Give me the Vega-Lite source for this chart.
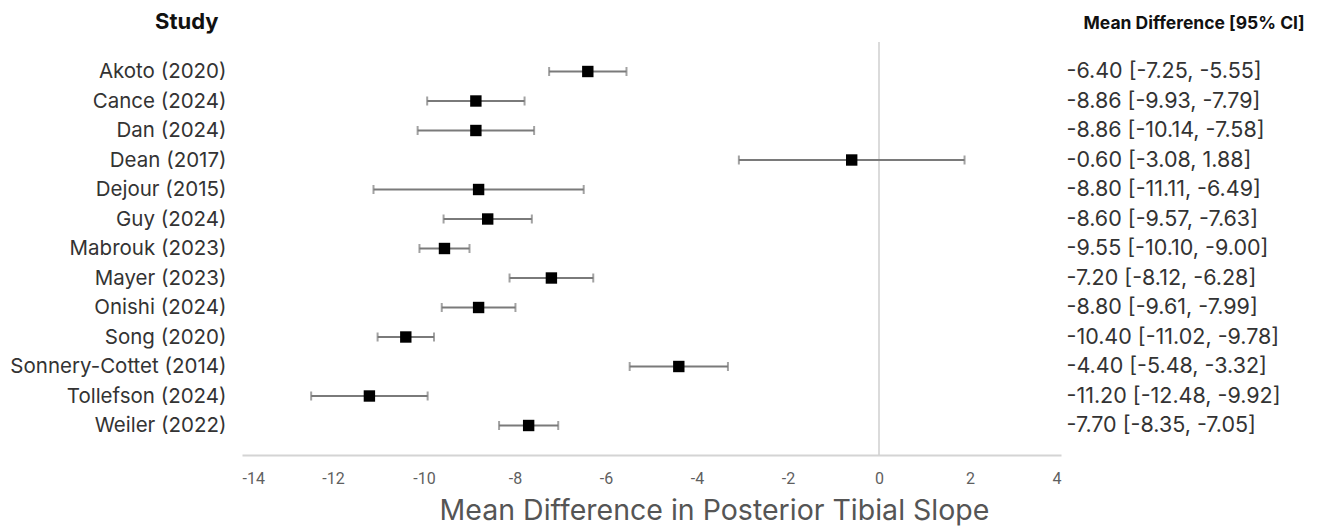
{
  "$schema": "https://vega.github.io/schema/vega-lite/v6.json",
  "autosize": {"type": "none"},
  "width": 819,
  "height": 413,
  "padding": {"left": 242, "top": 42, "right": 265, "bottom": 72},
  "background": "white",
  "config": {"view": {"stroke": null}, "font": "Inter"},
  "data": {"values": [
    {"order": 1, "study": "Akoto (2020)", "md": -6.40, "lo": -7.25, "hi": -5.55, "ci": "-6.40 [-7.25, -5.55]"},
    {"order": 2, "study": "Cance (2024)", "md": -8.86, "lo": -9.93, "hi": -7.79, "ci": "-8.86 [-9.93, -7.79]"},
    {"order": 3, "study": "Dan (2024)", "md": -8.86, "lo": -10.14, "hi": -7.58, "ci": "-8.86 [-10.14, -7.58]"},
    {"order": 4, "study": "Dean (2017)", "md": -0.60, "lo": -3.08, "hi": 1.88, "ci": "-0.60 [-3.08, 1.88]"},
    {"order": 5, "study": "Dejour (2015)", "md": -8.80, "lo": -11.11, "hi": -6.49, "ci": "-8.80 [-11.11, -6.49]"},
    {"order": 6, "study": "Guy (2024)", "md": -8.60, "lo": -9.57, "hi": -7.63, "ci": "-8.60 [-9.57, -7.63]"},
    {"order": 7, "study": "Mabrouk (2023)", "md": -9.55, "lo": -10.10, "hi": -9.00, "ci": "-9.55 [-10.10, -9.00]"},
    {"order": 8, "study": "Mayer (2023)", "md": -7.20, "lo": -8.12, "hi": -6.28, "ci": "-7.20 [-8.12, -6.28]"},
    {"order": 9, "study": "Onishi (2024)", "md": -8.80, "lo": -9.61, "hi": -7.99, "ci": "-8.80 [-9.61, -7.99]"},
    {"order": 10, "study": "Song (2020)", "md": -10.40, "lo": -11.02, "hi": -9.78, "ci": "-10.40 [-11.02, -9.78]"},
    {"order": 11, "study": "Sonnery-Cottet (2014)", "md": -4.40, "lo": -5.48, "hi": -3.32, "ci": "-4.40 [-5.48, -3.32]"},
    {"order": 12, "study": "Tollefson (2024)", "md": -11.20, "lo": -12.48, "hi": -9.92, "ci": "-11.20 [-12.48, -9.92]"},
    {"order": 13, "study": "Weiler (2022)", "md": -7.70, "lo": -8.35, "hi": -7.05, "ci": "-7.70 [-8.35, -7.05]"}
  ]},
  "encoding": {
    "x": {
      "type": "quantitative",
      "scale": {"domain": [-14, 4], "nice": false, "zero": false},
      "axis": {
        "values": [-14, -12, -10, -8, -6, -4, -2, 0, 2, 4],
        "labelExpr": "'' + datum.value",
        "grid": false, "ticks": false,
        "domain": true, "domainColor": "#d4d4d4", "domainWidth": 2,
        "labelColor": "#5f5f5f", "labelFontSize": 16, "labelPadding": 15,
        "labelFont": "Roboto",
        "title": "Mean Difference in Posterior Tibial Slope",
        "titleFontSize": 28.5, "titleFontWeight": "normal", "titleColor": "#555555",
        "titlePadding": 10, "titleFont": "Inter",
        "titleAnchor": "start", "titleAlign": "center", "titleX": 472
      }
    }
  },
  "layer": [
    {
      "mark": {"type": "rule", "color": "#cfcfcf", "strokeWidth": 1.5},
      "data": {"values": [{"zero": 0}]},
      "encoding": {"x": {"field": "zero", "type": "quantitative"}}
    },
    {
      "layer": [
        {
          "mark": {"type": "rule", "color": "#7a7a7a", "strokeWidth": 2},
          "encoding": {"x": {"field": "lo"}, "x2": {"field": "hi"}}
        },
        {
          "mark": {"type": "tick", "orient": "vertical", "color": "#7a7a7a", "size": 9, "thickness": 2},
          "encoding": {"x": {"field": "lo"}}
        },
        {
          "mark": {"type": "tick", "orient": "vertical", "color": "#7a7a7a", "size": 9, "thickness": 2},
          "encoding": {"x": {"field": "hi"}}
        }
      ],
      "encoding": {
        "y": {
          "field": "study", "type": "ordinal",
          "sort": {"field": "order", "op": "min"},
          "scale": {"type": "point", "padding": 1},
          "axis": {
            "orient": "left", "domain": false, "ticks": false, "grid": false,
            "labelFontSize": 20.5, "labelColor": "#333333", "labelPadding": 16,
            "labelFont": "Inter", "labelLimit": 300,
            "title": "Study", "titleAngle": 0, "titleAlign": "right",
            "titleBaseline": "alphabetic", "titleX": -24, "titleY": -14,
            "titleFontSize": 22, "titleFontWeight": "bold", "titleColor": "#111111",
            "titleFont": "Inter"
          }
        }
      }
    },
    {
      "mark": {"type": "square", "color": "black", "size": 130, "opacity": 1, "filled": true},
      "encoding": {
        "x": {"field": "md"},
        "y": {
          "field": "ci", "type": "ordinal",
          "sort": {"field": "order", "op": "min"},
          "scale": {"type": "point", "padding": 1},
          "axis": {
            "orient": "right", "domain": false, "ticks": false, "grid": false,
            "labelFontSize": 21.5, "labelColor": "#333333", "labelPadding": 5,
            "labelFont": "Inter", "labelLimit": 300, "labelAlign": "left",
            "title": "Mean Difference [95% CI]", "titleAngle": 0, "titleAlign": "left",
            "titleBaseline": "alphabetic", "titleX": 22, "titleY": -14,
            "titleFontSize": 17.5, "titleFontWeight": "bold", "titleColor": "#111111",
            "titleFont": "Inter"
          }
        }
      }
    }
  ],
  "resolve": {"scale": {"y": "independent"}, "axis": {"y": "independent"}}
}
